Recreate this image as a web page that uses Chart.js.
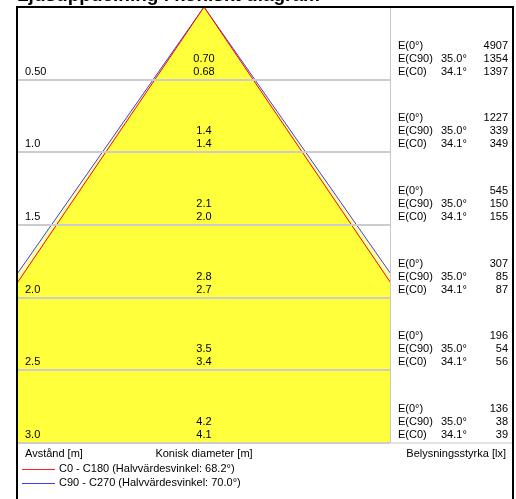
<!DOCTYPE html>
<html>
<head>
<meta charset="utf-8">
<script src="https://cdn.jsdelivr.net/npm/chart.js@4.4.1/dist/chart.umd.min.js"></script>
<style>
  html, body { margin: 0; padding: 0; background: #fff; }
  canvas { display: block; }
</style>
</head>
<body>
<canvas id="chart" width="516" height="499"></canvas>
<script>
// values
const distances = [0.5, 1.0, 1.5, 2.0, 2.5, 3.0];
const distanceLabels = ['0.50', '1.0', '1.5', '2.0', '2.5', '3.0'];
const diamC90 = ['0.70', '1.4', '2.1', '2.8', '3.5', '4.2'];
const diamC0 = ['0.68', '1.4', '2.0', '2.7', '3.4', '4.1'];
const eCenter = [4907, 1227, 545, 307, 196, 136];
const eC90 = [1354, 339, 150, 85, 54, 38];
const eC0 = [1397, 349, 155, 87, 56, 39];
const angleC90 = 35.0;
const angleC0 = 34.1;
const legendLabels = ['C0 - C180 (Halvvärdesvinkel: 68.2°)', 'C90 - C270 (Halvvärdesvinkel: 70.0°)'];

const maxD = distances[distances.length - 1];
const conePoints = (angle) => {
    const half = maxD * Math.tan(angle * Math.PI / 180);
    return [{x: -half, y: maxD}, {x: 0, y: 0}, {x: half, y: maxD}];
};

const FONT = '11px "Liberation Sans", Arial, sans-serif';

const textPlugin = {
    id: 'coneText',
    afterDraw(chart) {
        const ctx = chart.ctx;
        const area = chart.chartArea;
        const ys = chart.scales.y;
        const xs = chart.scales.x;
        const cx = xs.getPixelForValue(0);
        ctx.save();

        // title, mostly cut off at the top
        ctx.font = 'bold 19px "Liberation Sans", Arial, sans-serif';
        ctx.fillStyle = '#000';
        ctx.textBaseline = 'alphabetic';
        ctx.textAlign = 'left';
        ctx.fillText('Ljusuppdelning i koniskt diagram', 17, 1);

        // right panel box
        ctx.strokeStyle = '#c8c8c8';
        ctx.lineWidth = 1;
        ctx.beginPath();
        ctx.moveTo(Math.round(area.right) + 0.5, 7);
        ctx.lineTo(Math.round(area.right) + 0.5, area.bottom);
        ctx.lineTo(513, area.bottom);
        ctx.stroke();

        // outer frame
        ctx.strokeStyle = '#000';
        ctx.lineWidth = 2;
        ctx.beginPath();
        ctx.moveTo(17, 499);
        ctx.lineTo(17, 7);
        ctx.lineTo(513, 7);
        ctx.lineTo(513, 499);
        ctx.stroke();

        ctx.font = FONT;
        ctx.fillStyle = '#000';
        ctx.textBaseline = 'middle';
        distances.forEach((d, i) => {
            const yb = ys.getPixelForValue(d);
            ctx.textAlign = 'left';
            ctx.fillText(distanceLabels[i], 25, yb - 8);
            ctx.textAlign = 'center';
            ctx.fillText(diamC90[i], cx, yb - 21);
            ctx.fillText(diamC0[i], cx, yb - 8);

            const lx = area.right + 8;
            ctx.textAlign = 'left';
            ctx.fillText('E(0°)', lx, yb - 34);
            ctx.fillText('E(C90)', lx, yb - 21);
            ctx.fillText('E(C0)', lx, yb - 8);
            ctx.fillText(angleC90.toFixed(1) + '°', lx + 43, yb - 21);
            ctx.fillText(angleC0.toFixed(1) + '°', lx + 43, yb - 8);
            ctx.textAlign = 'right';
            ctx.fillText(String(eCenter[i]), 508, yb - 34);
            ctx.fillText(String(eC90[i]), 508, yb - 21);
            ctx.fillText(String(eC0[i]), 508, yb - 8);
        });

        // footer labels
        const fy = area.bottom + 11;
        ctx.textAlign = 'left';
        ctx.fillText('Avstånd [m]', 25, fy);
        ctx.textAlign = 'center';
        ctx.fillText('Konisk diameter [m]', cx, fy);
        ctx.textAlign = 'right';
        ctx.fillText('Belysningsstyrka [lx]', 506, fy);

        // legend
        const legendColors = ['#ff2020', '#4040ff'];
        legendLabels.forEach((lab, i) => {
            const ly = Math.round(area.bottom + 26 + i * 14);
            ctx.fillStyle = legendColors[i];
            ctx.fillRect(22, ly, 33, 1);
            ctx.fillStyle = '#000';
            ctx.textAlign = 'left';
            ctx.fillText(lab, 59, ly);
        });
        ctx.restore();
    }
};

new Chart(document.getElementById('chart').getContext('2d'), {
    type: 'line',
    data: {
        datasets: [{
            label: 'C0 - C180',
            data: conePoints(angleC0),
            borderColor: '#ff0000',
            borderWidth: 1,
            backgroundColor: '#ffff3c',
            fill: 'start',
            pointRadius: 0,
            tension: 0
        }, {
            label: 'C90 - C270',
            data: conePoints(angleC90),
            borderColor: '#3c3cff',
            borderWidth: 1,
            backgroundColor: '#ffffa8',
            fill: 'start',
            pointRadius: 0,
            tension: 0
        }]
    },
    plugins: [textPlugin],
    options: {
        responsive: false,
        animation: false,
        devicePixelRatio: 1,
        layout: {
            padding: {left: 18, right: 126, top: 7, bottom: 56}
        },
        plugins: {
            legend: {display: false},
            tooltip: {enabled: false}
        },
        scales: {
            x: {
                type: 'linear',
                display: false,
                min: -1.28,
                max: 1.28
            },
            y: {
                type: 'linear',
                reverse: true,
                min: 0,
                max: maxD,
                z: 1,
                afterFit: (scale) => { scale.width = 0; },
                ticks: {display: false, stepSize: 0.5},
                border: {display: false},
                grid: {color: '#cccccc', lineWidth: 2, drawTicks: false, z: 1}
            }
        }
    }
});
</script>
</body>
</html>
